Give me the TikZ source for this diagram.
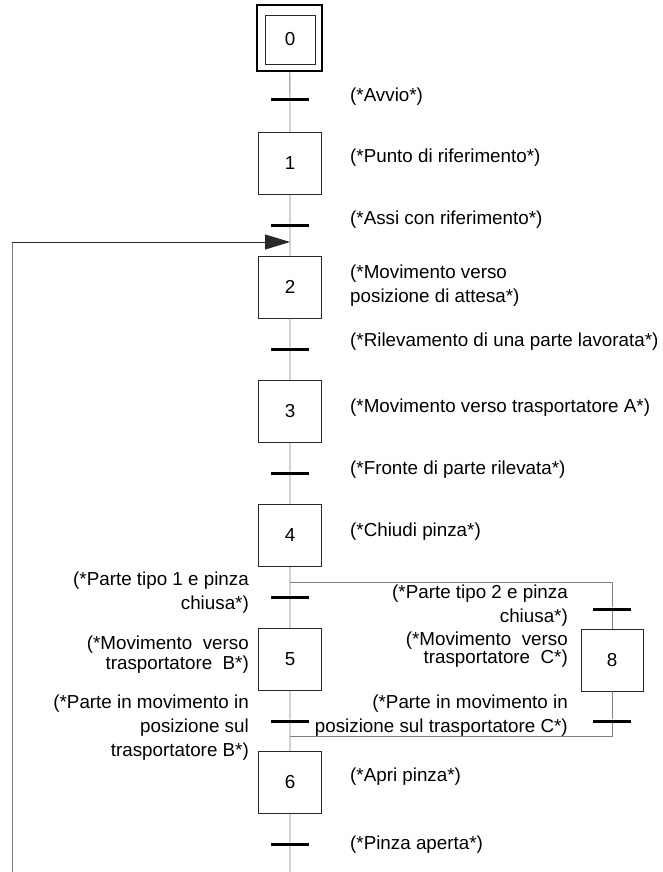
\documentclass[tikz,border=0pt]{standalone}
\usepackage{fontspec}
\setmainfont{Liberation Sans}
\usetikzlibrary{arrows.meta}
\definecolor{flowgray}{RGB}{128, 128, 128}
\definecolor{boxgray}{RGB}{40, 40, 40}

\begin{document}
\begin{tikzpicture}[
        x=1pt, y=-1pt,
        stepbox/.style={rectangle, draw=boxgray, line width=0.8pt, minimum width=63pt, minimum height=62pt, inner sep=0pt, font=\fontsize{18.8}{24}\selectfont},
        transbar/.style={rectangle, fill=black, minimum width=38pt, minimum height=3pt, inner sep=0pt},
        flow/.style={flowgray, line width=0.9pt},
        backline/.style={boxgray, line width=0.9pt},
        lbl/.style={inner sep=0pt, font=\fontsize{18.8}{24}\selectfont},
        >={Triangle[length=25pt, width=15pt]}
    ]
    \useasboundingbox (0,0) rectangle (662,872);

    % Initial step
    \node[rectangle, draw=black, line width=2.2pt, minimum width=65pt, minimum height=66pt] (s0out) at (289.5,38) {};
    \node[stepbox, minimum width=50pt, minimum height=49pt] (s0) at (290,39.5) {0};

    % Steps
    \foreach \n/\y in {1/163.5, 2/287, 3/411.5, 4/535.5, 5/659.5, 6/782.5} {
        \node[stepbox] (s\n) at (290,\y) {\n};
    }
    \node[stepbox, minimum width=62pt] (s8) at (612,660) {8};

    % Transitions
    \foreach \n/\y in {0/100, 1/225, 2/349, 3/473, 4/597, 5/721, 6/844} {
        \node[transbar] (t\n) at (290,\y) {};
    }
    \node[transbar] (t8a) at (612,609) {};
    \node[transbar] (t8b) at (612,721) {};

    % Helper points
    \coordinate (div) at (290,582);
    \coordinate (divR) at (612,582);
    \coordinate (conv) at (290,736);
    \coordinate (convR) at (612,736);
    \coordinate (mainbot) at (290,872);
    \coordinate (loopbot) at (12,872);
    \coordinate (loopcorner) at (12,242);
    \coordinate (loopin) at (290,242);

    % Main sequence
    \draw[flow] (s0out) -- (t0) -- (s1) -- (t1) -- (s2) -- (t2) -- (s3) -- (t3) -- (s4)
        -- (t4) -- (s5) -- (t5) -- (s6) -- (t6) -- (mainbot);
    % Alternative branch
    \draw[flow] (div) -- (divR) -- (t8a) -- (s8) -- (t8b) -- (convR) -- (conv);
    % Loop back to step 2
    \draw[flow] (loopbot) -- (loopcorner);
    \draw[backline, ->] (loopcorner) -- (loopin);

    % Labels right of the main sequence
    \node[lbl, anchor=west] (lAvvio) at (350,97) {(*Avvio*)};
    \node[lbl, anchor=west] (lPunto) at (350,158) {(*Punto di riferimento*)};
    \node[lbl, anchor=west] (lAssi) at (350,220) {(*Assi con riferimento*)};
    \node[lbl, anchor=west, align=left] (lAttesa) at (350,286) {(*Movimento verso\\posizione di attesa*)};
    \node[lbl, anchor=west] (lRilev) at (350,342) {(*Rilevamento di una parte lavorata*)};
    \node[lbl, anchor=west] (lTraspA) at (350,408) {(*Movimento verso trasportatore A*)};
    \node[lbl, anchor=west] (lFronte) at (350,470) {(*Fronte di parte rilevata*)};
    \node[lbl, anchor=west] (lChiudi) at (350,532) {(*Chiudi pinza*)};
    \node[lbl, anchor=west] (lApri) at (350,777) {(*Apri pinza*)};
    \node[lbl, anchor=west] (lAperta) at (350,845) {(*Pinza aperta*)};

    % Labels of the left branch
    \node[lbl, anchor=east, align=right] (lTipo1) at (249,593) {(*Parte tipo 1 e pinza\\chiusa*)};
    \node[lbl, anchor=east, align=right] (lTraspB) at (249,655) {(*Movimento\ \ verso\\[-4pt]trasportatore\ \ B*)};
    \node[lbl, anchor=east, align=right] (lPosB) at (249,728) {(*Parte in movimento in\\posizione sul\\trasportatore B*)};

    % Labels of the right branch
    \node[lbl, anchor=east, align=right] (lTipo2) at (568,606) {(*Parte tipo 2 e pinza\\chiusa*)};
    \node[lbl, anchor=east, align=right] (lTraspC) at (568,650) {(*Movimento\ \ verso\\[-6pt]trasportatore\ \ C*)};
    \node[lbl, anchor=east, align=right] (lPosC) at (568,715.5) {(*Parte in movimento in\\posizione sul trasportatore C*)};
\end{tikzpicture}
\end{document}
